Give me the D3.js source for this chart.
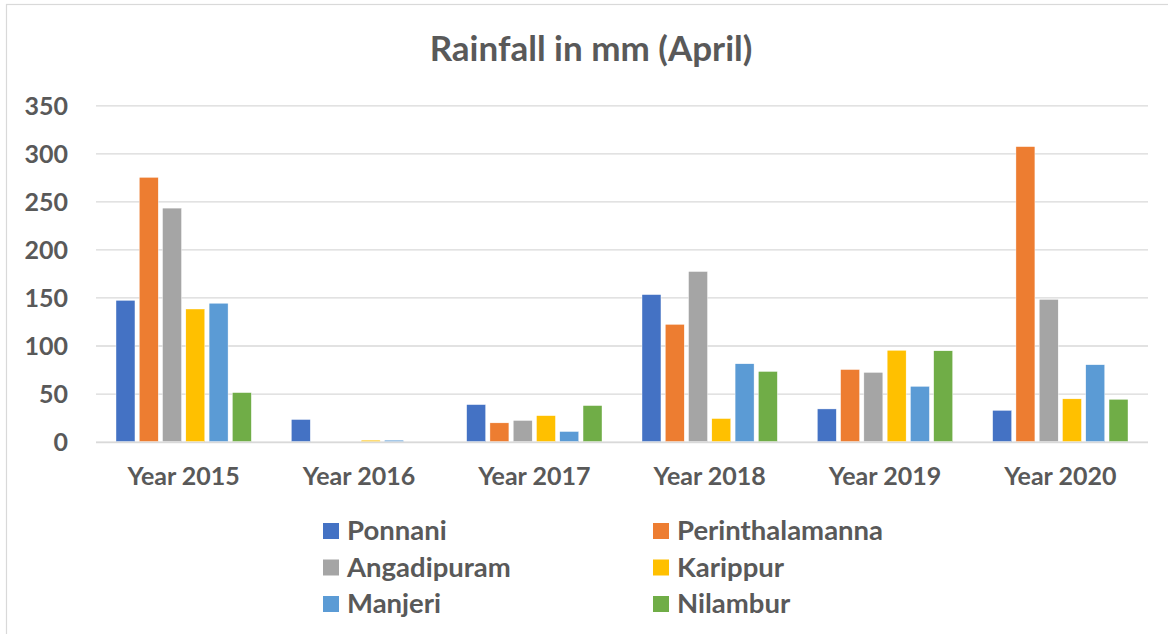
<!DOCTYPE html>
<html>
<head>
<meta charset="utf-8">
<script src="https://cdn.jsdelivr.net/npm/d3@7"></script>
<style>
  html, body { margin: 0; padding: 0; background: #fff; }
  svg { display: block; }
  text { font-family: Lato, "Open Sans", sans-serif; font-weight: bold; fill: #595959; }
</style>
</head>
<body>
<svg id="chart" width="1168" height="634"></svg>
<script>
const categories = ["Year 2015", "Year 2016", "Year 2017", "Year 2018", "Year 2019", "Year 2020"];
const seriesNames = ["Ponnani", "Perinthalamanna", "Angadipuram", "Karippur", "Manjeri", "Nilambur"];
const ponnani = [147, 23, 38.5, 153, 34, 32.5];
const perinthalamanna = [275, 0, 19.5, 122, 75, 307];
const angadipuram = [243, 0, 22, 177, 72, 148];
const karippur = [138, 1.5, 27, 24, 95, 44.5];
const manjeri = [144, 1.5, 10.5, 81, 57.5, 80];
const nilambur = [51, 0, 37.5, 73, 94.5, 44];
const yTicks = [0, 50, 100, 150, 200, 250, 300, 350];
const colors = ["#4472C4", "#ED7D31", "#A5A5A5", "#FFC000", "#5B9BD5", "#70AD47"];
const title = "Rainfall in mm (April)";

const seriesValues = [ponnani, perinthalamanna, angadipuram, karippur, manjeri, nilambur];

const svg = d3.select("#chart");

// chart border
svg.append("rect").attr("x", 6.5).attr("y", 4.5).attr("width", 1180).attr("height", 650)
  .attr("fill", "none").attr("stroke", "#D9D9D9").attr("stroke-width", 1.2);

const plotLeft = 96, plotRight = 1148, plotTop = 105.3, plotBottom = 441.6;

const x0 = d3.scaleBand().domain(categories).range([plotLeft, plotRight]).padding(0);
const groupPad = 20;
const x1 = d3.scaleBand().domain(seriesNames)
  .range([groupPad, x0.bandwidth() - groupPad]).paddingInner(0.185).paddingOuter(0);
const y = d3.scaleLinear().domain([0, 350]).range([plotBottom, plotTop]);

// gridlines
const grid = d3.axisLeft(y).tickValues(yTicks).tickSize(-(plotRight - plotLeft)).tickFormat("");
const g = svg.append("g").attr("transform", `translate(${plotLeft},0)`).call(grid);
g.select(".domain").remove();
g.selectAll(".tick line").attr("stroke", "#D9D9D9").attr("stroke-width", 1.3);

// y tick labels
const yAxis = d3.axisLeft(y).tickValues(yTicks).tickSize(0).tickPadding(0);
const ya = svg.append("g").attr("transform", `translate(68,0)`).call(yAxis);
ya.select(".domain").remove();
ya.selectAll("text").attr("font-size", 25).attr("font-family", "Lato, sans-serif")
  .attr("font-weight", "bold").attr("fill", "#595959").attr("dy", "0.36em");

// bars
const groups = svg.append("g").selectAll("g").data(categories).join("g")
  .attr("transform", d => `translate(${x0(d)},0)`);
groups.selectAll("rect")
  .data((c, ci) => seriesNames.map((s, si) => ({ s, si, v: seriesValues[si][ci] })))
  .join("rect")
  .attr("x", d => x1(d.s))
  .attr("width", x1.bandwidth())
  .attr("y", d => y(d.v))
  .attr("height", d => y(0) - y(d.v))
  .attr("fill", d => colors[d.si])
  .attr("stroke", "#ffffff").attr("stroke-width", 0.4);

// x axis line
svg.append("line").attr("x1", plotLeft).attr("x2", plotRight)
  .attr("y1", y(0) + 0.8).attr("y2", y(0) + 0.8).attr("stroke", "#D9D9D9").attr("stroke-width", 1.5);

// x labels
const xAxis = d3.axisBottom(x0).tickSize(0).tickPadding(0);
const xa = svg.append("g").attr("transform", `translate(0,485)`).call(xAxis);
xa.select(".domain").remove();
xa.selectAll("text").attr("font-size", 25).attr("font-family", "Lato, sans-serif")
  .attr("font-weight", "bold").attr("fill", "#595959").attr("dy", 0);

// title
svg.append("text").attr("x", 591).attr("y", 61).attr("text-anchor", "middle")
  .attr("font-size", 35).text(title);

// legend
const legX = [323, 653], legY = [540, 576.5, 613];
const leg = svg.append("g").selectAll("g").data(seriesNames).join("g")
  .attr("transform", (d, i) => `translate(${legX[i % 2]},${legY[Math.floor(i / 2)]})`);
leg.append("rect").attr("x", 0).attr("y", -17).attr("width", 16).attr("height", 16)
  .attr("fill", (d, i) => colors[i]);
leg.append("text").attr("x", 24).attr("y", 0).attr("font-size", 27.5).text(d => d);
</script>
</body>
</html>
